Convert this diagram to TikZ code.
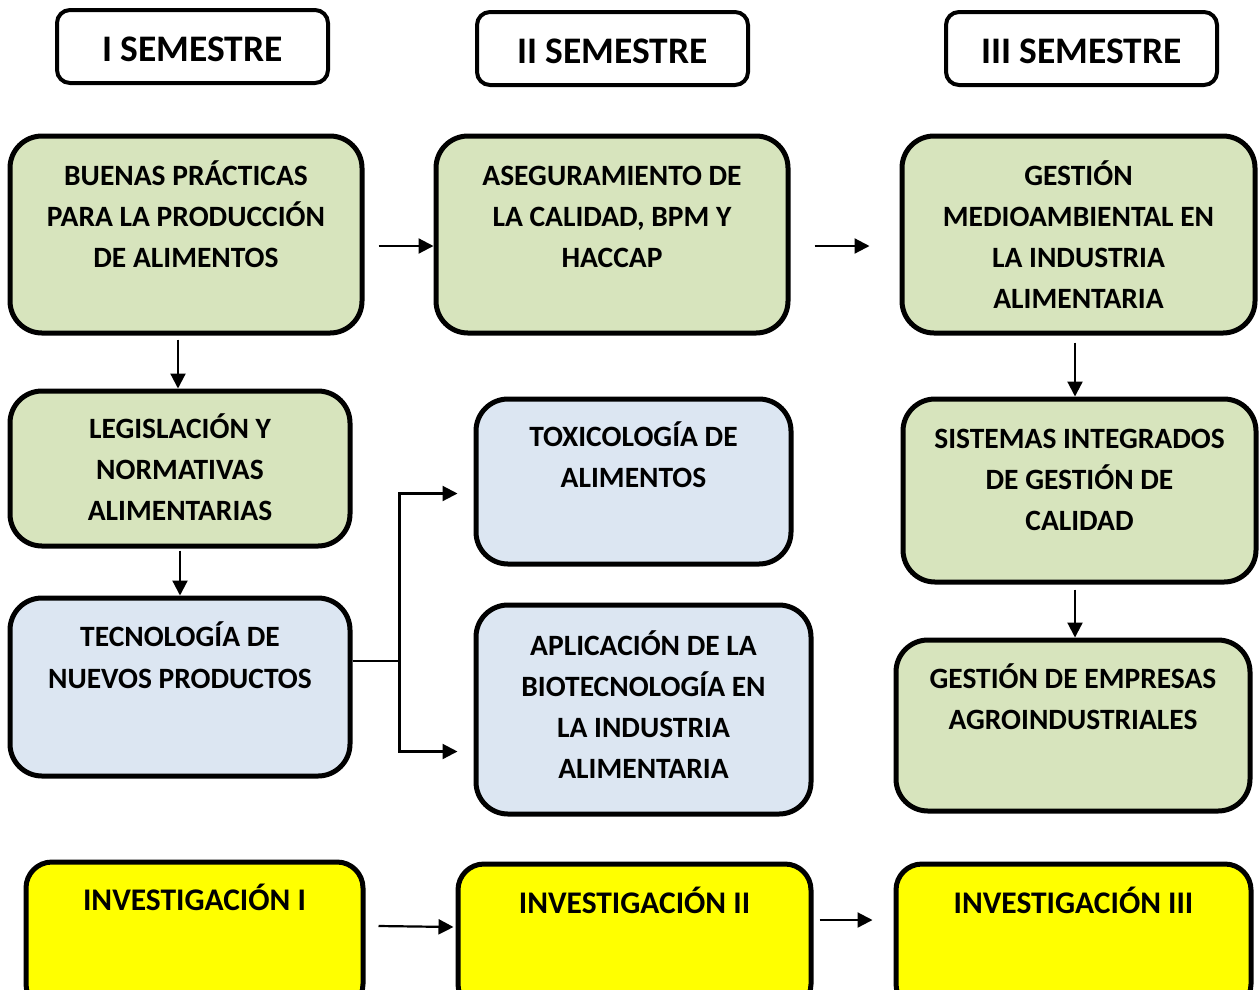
\documentclass[tikz,border=0pt]{standalone}
\usepackage{fontspec}
\setmainfont{Carlito}[BoldFont={Carlito Bold}]
\usetikzlibrary{arrows.meta}
\definecolor{gfill}{HTML}{D7E4BD}
\definecolor{bfill}{HTML}{DCE6F2}
\definecolor{yfill}{HTML}{FFFF00}
\tikzset{
  x=1pt, y=-1pt,
  semb/.style={draw=black, line width=4pt, rounded corners=13pt, fill=white, inner sep=0pt},
  bigb/.style={draw=black, line width=5pt, rounded corners=32pt, inner sep=0pt},
  greenb/.style={bigb, fill=gfill},
  blueb/.style={bigb, fill=bfill},
  yellowb/.style={bigb, fill=yfill, rounded corners=26pt},
  semtxt/.style={anchor=base, inner sep=0pt, font={\bfseries\fontsize{37.5}{40}\selectfont}},
  txt/.style={anchor=base, inner sep=0pt, align=center, font={\bfseries\fontsize{29.5}{41}\selectfont}},
  ytxt/.style={txt, font={\bfseries\fontsize{31.5}{41}\selectfont}},
  arr/.style={line width=2.2pt, -{Triangle[length=15pt,width=15pt]}},
}
\newcommand{\mybox}[6]{%
  \node[#6, minimum width={#4-#2}, minimum height={#5-#3}] (#1) at ({(#2+#4)/2},{(#3+#5)/2}) {};}
\begin{document}
\begin{tikzpicture}
\useasboundingbox (0,0) rectangle (1260,989);
\clip (0,0) rectangle (1260,989);
\fill[white] (0,0) rectangle (1260,989);

% semester headers
\mybox{s1h}{57}{10}{328}{83}{semb}
\mybox{s2h}{477}{12}{748}{85}{semb}
\mybox{s3h}{946}{12}{1217}{85}{semb}
\node[semtxt] (s1ht) at (s1h |- 0,61) {I SEMESTRE};
\node[semtxt] (s2ht) at (s2h |- 0,63) {II SEMESTRE};
\node[semtxt] (s3ht) at (s3h |- 0,63) {III SEMESTRE};

% row 1 (anchor = baseline of last line)
\mybox{b1}{10}{136}{362}{333}{greenb}
\mybox{b2}{436}{136}{788}{333}{greenb}
\mybox{b3}{902}{136}{1255}{333}{greenb}
\node[txt] (b1t) at (b1 |- 0,267) {BUENAS PRÁCTICAS\\PARA LA PRODUCCIÓN\\DE ALIMENTOS};
\node[txt] (b2t) at (b2 |- 0,267) {ASEGURAMIENTO DE\\LA CALIDAD, BPM Y\\HACCAP};
\node[txt] (b3t) at (b3 |- 0,308) {GESTIÓN\\MEDIOAMBIENTAL EN\\LA INDUSTRIA\\ALIMENTARIA};

% row 2
\mybox{l1}{10}{391}{350}{546}{greenb}
\mybox{tox}{476}{399}{791}{564}{blueb}
\mybox{sis}{903}{399}{1256}{582}{greenb}
\node[txt] (l1t) at (l1 |- 0,520) {LEGISLACIÓN Y\\NORMATIVAS\\ALIMENTARIAS};
\node[txt] (toxt) at (tox |- 0,487) {TOXICOLOGÍA DE\\ALIMENTOS};
\node[txt] (sist) at (sis |- 0,530) {SISTEMAS INTEGRADOS\\DE GESTIÓN DE\\CALIDAD};

% row 3
\mybox{t1}{10}{598}{350}{776}{blueb}
\mybox{apl}{476}{605}{811}{814}{blueb}
\mybox{gem}{896}{640}{1250}{811}{greenb}
\node[txt, font={\bfseries\fontsize{29.5}{42}\selectfont}] (t1t) at (t1 |- 0,688) {TECNOLOGÍA DE\\NUEVOS PRODUCTOS};
\node[txt] (aplt) at (apl |- 0,778) {APLICACIÓN DE LA\\BIOTECNOLOGÍA EN\\LA INDUSTRIA\\ALIMENTARIA};
\node[txt] (gemt) at (gem |- 0,729) {GESTIÓN DE EMPRESAS\\AGROINDUSTRIALES};

% row 4
\mybox{inv1}{26}{862}{363}{1010}{yellowb}
\mybox{inv2}{458}{864}{811}{1010}{yellowb}
\mybox{inv3}{896}{864}{1251}{1010}{yellowb}
\node[ytxt] (inv1t) at (inv1 |- 0,910) {INVESTIGACIÓN I};
\node[ytxt] (inv2t) at (inv2 |- 0,913) {INVESTIGACIÓN II};
\node[ytxt] (inv3t) at (inv3 |- 0,913) {INVESTIGACIÓN III};

% connectors
\draw[arr] ([shift={(14,11.5)}]b1.east) -- ([shift={(0,11.5)}]b2.west);
\draw[arr] ([shift={(24,11.5)}]b2.east) -- ([shift={(-30,11.5)}]b3.west);
\draw[arr] ([shift={(-8,4)}]b1.south) -- ([shift={(-2,0)}]l1.north);
\draw[arr] ([shift={(0,2)}]l1.south) -- (t1.north);
\draw[arr] ([shift={(-3.5,7)}]b3.south) -- ([shift={(-4.5,0)}]sis.north);
\draw[arr] ([shift={(-4.5,5)}]sis.south) -- ([shift={(2,0)}]gem.north);
\draw[arr] ([shift={(0,-26)}]t1.east) -- ++(47,0) |- ([shift={(-16,12)}]tox.west);
\draw[arr] ([shift={(0,-26)}]t1.east) -- ++(47,0) |- ([shift={(-16,42)}]apl.west);
\draw[arr] ([shift={(13,-10)}]inv1.east) -- ([shift={(-2,-10)}]inv2.west);
\draw[arr] ([shift={(6,-17)}]inv2.east) -- ([shift={(-21,-17)}]inv3.west);
\end{tikzpicture}
\end{document}
